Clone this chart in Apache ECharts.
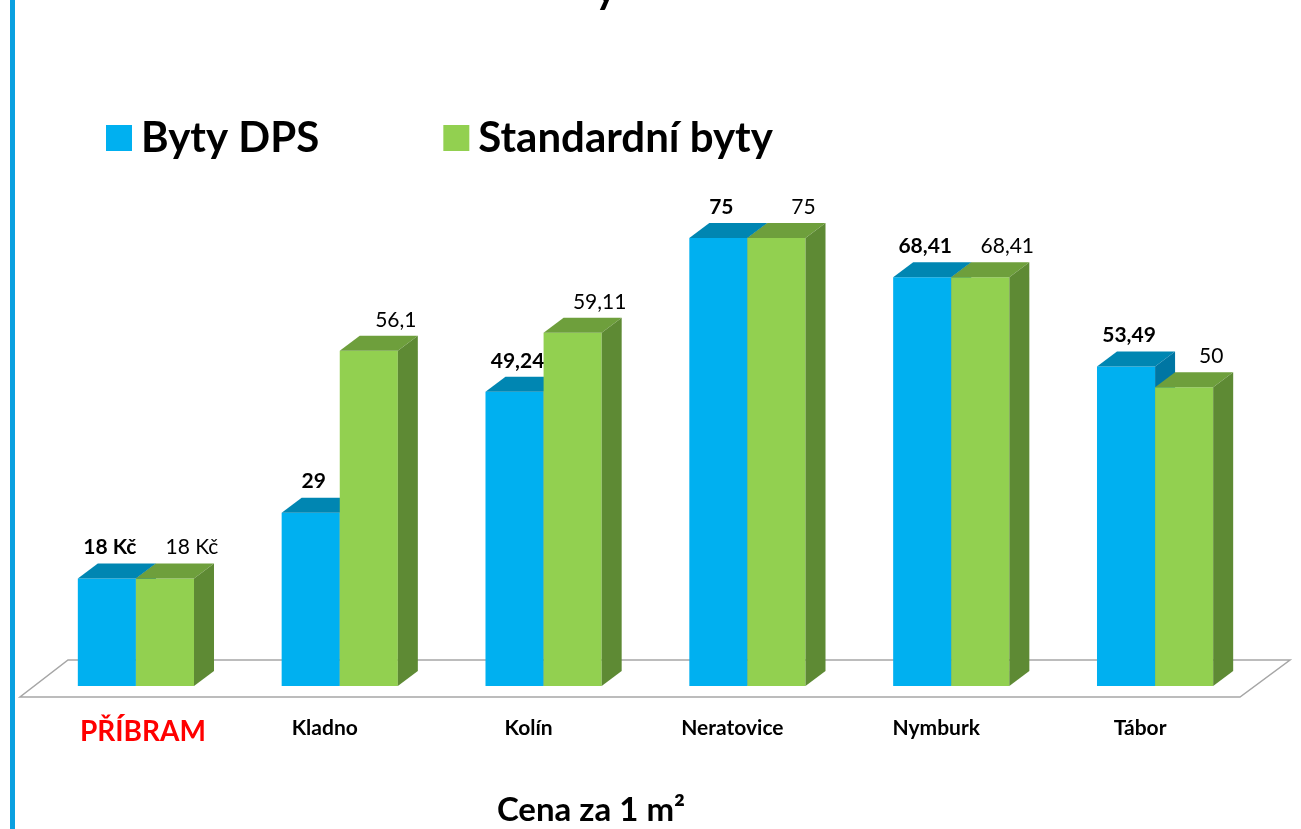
<!DOCTYPE html>
<html>
<head>
<meta charset="utf-8">
<script src="https://cdn.jsdelivr.net/npm/echarts@6/dist/echarts.min.js"></script>
<style>
  html, body { margin: 0; padding: 0; background: #fff; }
  #main { width: 1301px; height: 829px; }
</style>
</head>
<body>
<div id="main"></div>
<script>
var cities = ['PŘÍBRAM', 'Kladno', 'Kolín', 'Neratovice', 'Nymburk', 'Tábor'];
var dpsValues = [18, 29, 49.24, 75, 68.41, 53.49];
var stdValues = [18, 56.1, 59.11, 75, 68.41, 50];
var dpsLabels = ['18 Kč', '29', '49,24', '75', '68,41', '53,49'];
var stdLabels = ['18 Kč', '56,1', '59,11', '75', '68,41', '50'];

var FONT = 'Lato, "Noto Sans", sans-serif';
var DX = 20, DY = 15; // hloubka 3D efektu

var myChart = echarts.init(document.getElementById('main'));

// jeden sloupec s predni stenou, vrchem a bokem
function makeRender(side, colors, labels, bold, labelShift) {
  return function (params, api) {
    var i = params.dataIndex;
    var base = api.coord([api.value(0), 0]);
    var top = api.coord([api.value(0), api.value(1)]);
    var band = api.size([1, 0])[0];
    var w = band * 0.285;
    var x0 = side === 0 ? base[0] - w : base[0];
    var x1 = x0 + w;
    var y0 = base[1], y1 = top[1];
    return {
      type: 'group',
      children: [
        {
          type: 'rect',
          shape: { x: x0, y: y1, width: w, height: y0 - y1 },
          style: { fill: colors[0] }
        },
        {
          type: 'polygon',
          shape: { points: [[x0, y1], [x0 + DX, y1 - DY], [x1 + DX, y1 - DY], [x1, y1]] },
          style: { fill: colors[1] }
        },
        {
          type: 'polygon',
          shape: { points: [[x1, y1], [x1 + DX, y1 - DY], [x1 + DX, y0 - DY], [x1, y0]] },
          style: { fill: colors[2] }
        },
        {
          type: 'text',
          style: {
            x: (x0 + x1) / 2 + labelShift,
            y: y1 - 31,
            text: labels[i],
            fill: '#000',
            font: (bold ? 'bold ' : '') + '21px ' + FONT,
            align: 'center',
            verticalAlign: 'middle'
          }
        }
      ]
    };
  };
}

var option = {
  animation: false,
  grid: { left: 34, right: 44, top: 208, bottom: 143 },
  legend: {
    left: 101,
    top: 112,
    itemWidth: 26,
    itemHeight: 26,
    itemGap: 124,
    icon: 'rect',
    textStyle: { fontSize: 42, fontWeight: 'bold', fontFamily: FONT, color: '#000', padding: [0, 0, 0, 4] },
    data: ['Byty DPS', 'Standardní byty']
  },
  xAxis: {
    type: 'category',
    data: cities,
    axisLine: { show: false },
    axisTick: { show: false },
    axisLabel: {
      margin: 32,
      interval: 0,
      formatter: function (v, idx) {
        return idx === 0 ? '{red|' + v + '}' : '{n|' + v + '}';
      },
      rich: {
        n: { fontSize: 21, fontWeight: 'bold', fontFamily: FONT, color: '#000', padding: [0, 30, 0, 0] },
        red: { fontSize: 28, fontWeight: 'bold', fontFamily: FONT, color: '#ff0000', padding: [0, 0, 0, 14] }
      }
    }
  },
  yAxis: { type: 'value', min: 0, max: 80, show: false },
  graphic: [
    {
      type: 'rect',
      shape: { x: 10, y: 0, width: 5, height: 829 },
      style: { fill: '#0aa0e0' }
    },
    {
      type: 'polygon',
      shape: { points: [[20, 697], [1240, 697], [1290, 660], [68, 660]] },
      style: { fill: 'none', stroke: '#a6a6a6', lineWidth: 1.5 }
    },
    {
      type: 'text',
      style: { x: 606, y: 10, text: 'y', font: 'bold 42px ' + FONT, fill: '#000', align: 'center', verticalAlign: 'bottom' }
    },
    {
      type: 'text',
      style: { x: 591, y: 810, text: 'Cena za 1 m²', font: 'bold 33px ' + FONT, fill: '#000', align: 'center', verticalAlign: 'middle' }
    }
  ],
  series: [
    {
      name: 'Byty DPS',
      type: 'custom',
      itemStyle: { color: '#00b0f0' },
      renderItem: makeRender(0, ['#00b0f0', '#0086b2', '#0076a3'], dpsLabels, true, 3),
      data: dpsValues.map(function (v, i) { return [i, v]; })
    },
    {
      name: 'Standardní byty',
      type: 'custom',
      itemStyle: { color: '#92d050' },
      renderItem: makeRender(1, ['#92d050', '#6e9f3c', '#5e8a34'], stdLabels, false, 27),
      data: stdValues.map(function (v, i) { return [i, v]; })
    }
  ]
};
myChart.setOption(option);

window.addEventListener('resize', function () {
  myChart.resize();
});
</script>
</body>
</html>
